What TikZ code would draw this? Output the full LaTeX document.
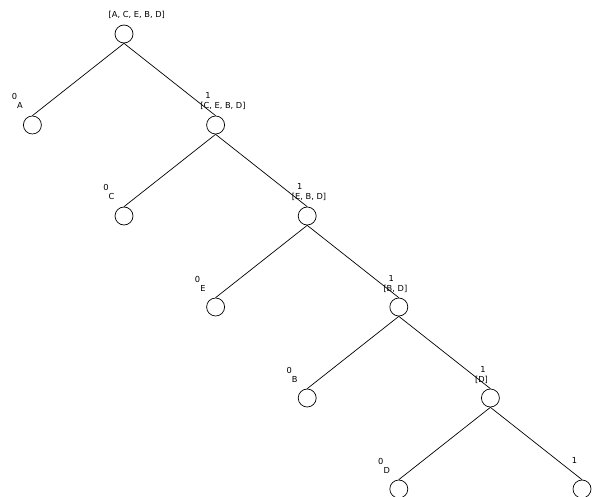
\documentclass[tikz,border=0pt]{standalone}
\usepackage{fontspec}
\setmainfont{DejaVu Sans}
\usetikzlibrary{calc}
\begin{document}
\begin{tikzpicture}[x=1bp,y=-1bp,
  tn/.style={circle,draw,minimum size=18bp,inner sep=0pt,line width=0.7bp},
  nm/.style={anchor=base west,inner sep=0pt,font=\fontsize{8.3}{10}\selectfont},
  el/.style={anchor=base,inner sep=0pt,font=\fontsize{8.3}{10}\selectfont},
  ed/.style={line width=0.7bp}]
\useasboundingbox (0,0) rectangle (600,497);
% nodes
\node[tn] (r0) at (124,34) {};
\foreach \k in {1,...,5}{
  \node[tn] (r\k) at ({124+91.6*\k},{34+91*\k}) {};
  \node[tn] (l\k) at ({124+91.6*(\k-2)},{34+91*\k}) {};
}
% edges
\foreach \k [evaluate=\k as \p using int(\k-1)] in {1,...,5}{
  \draw[ed] (r\p.south) -- (l\k.north);
  \draw[ed] (r\p.south) -- (r\k.north);
  \node[el] (e0\k) at ($(l\k.center)+(-18,-25)$) {0};
  \node[el] (e1\k) at ($(r\k.center)+(-7.5,-26)$) {1};
}
% names
\node[nm] (n0) at ($(r0.center)+(-15.5,-16)$) {[A, C, E, B, D]};
\node[nm] (n1) at ($(r1.center)+(-15.5,-16)$) {[C, E, B, D]};
\node[nm] (n2) at ($(r2.center)+(-15.5,-16)$) {[E, B, D]};
\node[nm] (n3) at ($(r3.center)+(-15.5,-16)$) {[B, D]};
\node[nm] (n4) at ($(r4.center)+(-15.5,-16)$) {[D]};
\node[nm] (m1) at ($(l1.center)+(-15.5,-16)$) {A};
\node[nm] (m2) at ($(l2.center)+(-15.5,-16)$) {C};
\node[nm] (m3) at ($(l3.center)+(-15.5,-16)$) {E};
\node[nm] (m4) at ($(l4.center)+(-15.5,-16)$) {B};
\node[nm] (m5) at ($(l5.center)+(-15.5,-16)$) {D};
\end{tikzpicture}
\end{document}
